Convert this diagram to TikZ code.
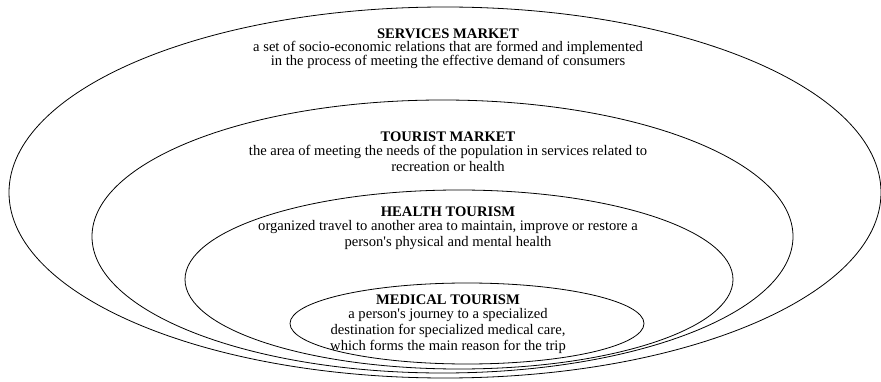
\documentclass[tikz,border=0pt]{standalone}
\usepackage{fontspec}
\setmainfont{Liberation Serif}
\usepackage{tikz}
\usetikzlibrary{positioning}

% straight apostrophe, as in the picture
\newcommand{\apos}{{\XeTeXglyph\XeTeXcharglyph"27\relax}}

\tikzset{
  ring/.style={line width=0.8pt},
  heading/.style={font=\fontsize{14.6}{16}\selectfont\bfseries, inner sep=0pt},
  explain/.style={font=\fontsize{14.6}{16}\selectfont, align=center, inner sep=0pt}
}

\begin{document}
\begin{tikzpicture}[x=1pt,y=-1pt]
  \useasboundingbox (0,0) rectangle (881,382);

  \draw[ring] (445,192.5) ellipse [x radius=436pt, y radius=185.5pt];
  \draw[ring] (442.5,236.5) ellipse [x radius=350.5pt, y radius=136.5pt];
  \draw[ring] (459,279.5) ellipse [x radius=274pt, y radius=89.5pt];
  \draw[ring] (467,323.5) ellipse [x radius=177pt, y radius=40.5pt];

  \node[heading] (services) at (448,34) {SERVICES MARKET};
  \node[explain, font=\fontsize{14.6}{13.5}\selectfont, below=2pt of services] (servicestext) {a set of socio-economic relations that are formed and implemented\\in the process of meeting the effective demand of consumers};

  \node[heading] (tourist) at (448,137) {TOURIST MARKET};
  \node[explain, below=3pt of tourist] (touristtext) {the area of meeting the needs of the population in services related to\\recreation or health};

  \node[heading] (health) at (448,212) {HEALTH TOURISM};
  \node[explain, below=3pt of health] (healthtext) {organized travel to another area to maintain, improve or restore a\\person\apos s physical and mental health};

  \node[heading] (medical) at (448,300) {MEDICAL TOURISM};
  \node[explain, below=3pt of medical] (medicaltext) {a person\apos s journey to a specialized\\destination for specialized medical care,\\which forms the main reason for the trip};

\end{tikzpicture}
\end{document}
